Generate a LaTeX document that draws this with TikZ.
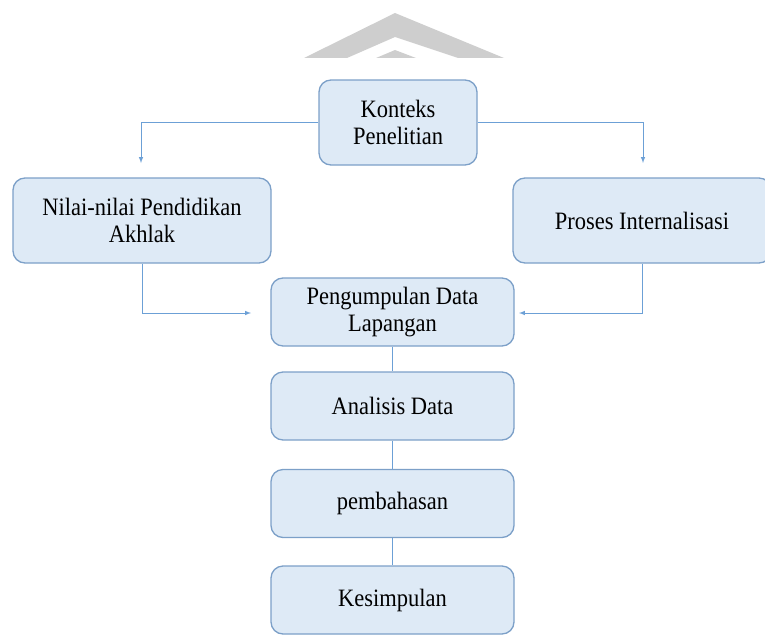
\documentclass[tikz,border=0pt]{standalone}
\usepackage{fontspec}
\setmainfont{Liberation Serif}[FakeStretch=0.9]
\usepackage{xcolor}
\usepackage{tikz}
\usetikzlibrary{shapes,arrows,positioning}

\definecolor{boxfill}{RGB}{222,234,246}
\definecolor{boxline}{RGB}{124,160,200}
\definecolor{linkline}{RGB}{108,160,214}
\definecolor{markgray}{RGB}{206,206,206}

\tikzset{
    kotak/.style={
        draw=boxline,
        line width=1.3pt,
        fill=boxfill,
        rounded corners=12pt,
        align=center,
        inner sep=0pt,
        font=\fontsize{25}{27}\selectfont
    },
    hubung/.style={
        draw=linkline,
        line width=1pt
    }
}

\begin{document}
\begin{tikzpicture}[x=1pt,y=-1pt,>=latex]
                \useasboundingbox (0,0) rectangle (765,634);
                \clip (0,0) rectangle (765,634);

                % watermark
                \fill[
                    markgray
                    ] (304,58) -- (395,13) -- (504,58) -- (458,58)
                      -- (395,37) -- (347,58) -- cycle;

                \fill[
                    markgray
                    ] (376,58) -- (395,50) -- (416,58) -- cycle;

                \node[
                    kotak,
                    minimum width=158pt,
                    minimum height=85pt
                    ] (konteks) at (398,122.5) {Konteks\\Penelitian};

                \node[
                    kotak,
                    minimum width=258pt,
                    minimum height=85pt
                    ] (nilai) at (142,220.5) {Nilai-nilai Pendidikan\\Akhlak};

                \node[
                    kotak,
                    minimum width=258pt,
                    minimum height=85pt
                    ] (proses) at (642,220.5) {Proses Internalisasi};

                \node[
                    kotak,
                    minimum width=243pt,
                    minimum height=68pt
                    ] (kumpul) at (392.5,312) {Pengumpulan Data\\Lapangan};

                \node[
                    kotak,
                    minimum width=243pt,
                    minimum height=68pt
                    ] (analisis) at (392.5,406) {Analisis Data};

                \node[
                    kotak,
                    minimum width=243pt,
                    minimum height=68pt
                    ] (bahas) at (392.5,503.5) {pembahasan};

                \node[
                    kotak,
                    minimum width=243pt,
                    minimum height=68pt
                    ] (simpul) at (392.5,600) {Kesimpulan};

                \coordinate (kiri) at (141,163);
                \coordinate (kanan) at (643,163);
                \coordinate (masukkiri) at (251,313);
                \coordinate (masukkanan) at (519,313);

                \draw[
                    ->,
                    hubung
                ] (konteks.west) -| (kiri);

                \draw[
                    ->,
                    hubung
                ] (konteks.east) -| (kanan);

                \draw[
                    ->,
                    hubung
                ] (nilai.south) |- (masukkiri);

                \draw[
                    ->,
                    hubung
                ] (proses.south) |- (masukkanan);

                \draw[
                    hubung
                ] (kumpul) -- (analisis);

                \draw[
                    hubung
                ] (analisis) -- (bahas);

                \draw[
                    hubung
                ] (bahas) -- (simpul);

            \end{tikzpicture}
\end{document}
